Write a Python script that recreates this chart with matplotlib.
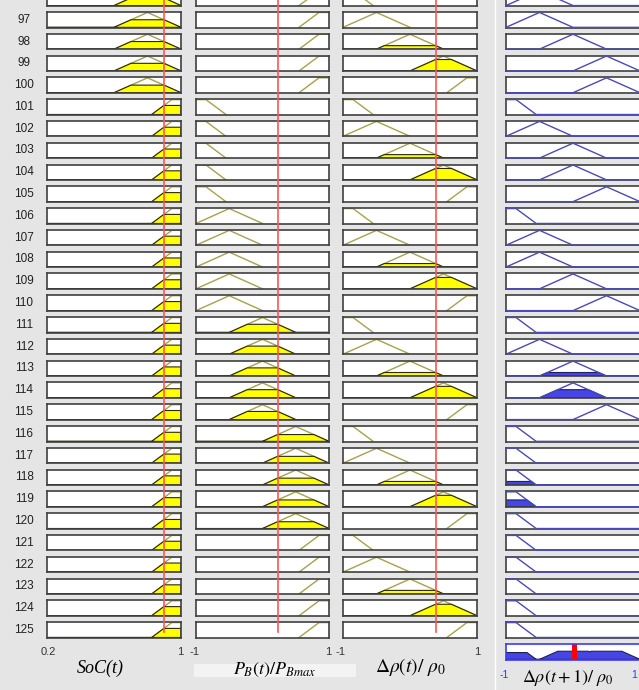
import matplotlib.pyplot as plt
import numpy as np
from matplotlib.lines import Line2D
from matplotlib.patches import Rectangle
from matplotlib.transforms import blended_transform_factory

plt.rcParams['mathtext.fontset'] = 'stix'

# rule numbers visible in the viewer (96 is cut at the top)
rules = [96, 97, 98, 99, 100, 101, 102, 103, 104, 105, 106, 107, 108, 109, 110,
         111, 112, 113, 114, 115, 116, 117, 118, 119, 120, 121, 122, 123, 124, 125]
soc_mf = ['H', 'H', 'H', 'H', 'H', 'VH', 'VH', 'VH', 'VH', 'VH', 'VH', 'VH', 'VH', 'VH', 'VH',
          'VH', 'VH', 'VH', 'VH', 'VH', 'VH', 'VH', 'VH', 'VH', 'VH', 'VH', 'VH', 'VH', 'VH', 'VH']
pb_mf = ['PB', 'PB', 'PB', 'PB', 'PB', 'NB', 'NB', 'NB', 'NB', 'NB', 'NS', 'NS', 'NS', 'NS', 'NS',
         'Z', 'Z', 'Z', 'Z', 'Z', 'PS', 'PS', 'PS', 'PS', 'PS', 'PB', 'PB', 'PB', 'PB', 'PB']
drho_mf = ['NB', 'NS', 'Z', 'PS', 'PB', 'NB', 'NS', 'Z', 'PS', 'PB', 'NB', 'NS', 'Z', 'PS', 'PB',
           'NB', 'NS', 'Z', 'PS', 'PB', 'NB', 'NS', 'Z', 'PS', 'PB', 'NB', 'NS', 'Z', 'PS', 'PB']
out_mf = ['NS', 'NS', 'Z', 'PS', 'PS', 'NB', 'NS', 'Z', 'Z', 'PS', 'NB', 'NS', 'NS', 'Z', 'PS',
          'NB', 'NS', 'Z', 'Z', 'PS', 'NB', 'NB', 'NB', 'NB', 'NB', 'NB', 'NB', 'NB', 'NB', 'NB']

# trapezoid breakpoints a, b, c, d
soc_mfs = {'H': [0.6, 0.8, 0.8, 1.0], 'VH': [0.825, 0.945, 1.0, 1.0]}
std_mfs = {'NB': [-1.0, -1.0, -0.85, -0.55], 'NS': [-1.0, -0.5, -0.5, 0.0],
           'Z': [-0.5, 0.0, 0.0, 0.5], 'PS': [0.0, 0.5, 0.5, 1.0], 'PB': [0.55, 0.85, 1.0, 1.0]}

soc_in = 0.898
pb_in = 0.228
drho_in = 0.383
out_val = 0.015
# aggregated output (includes rules above the visible window)
agg_mf = ['NB', 'Z', 'PS']
agg_level = [0.456, 0.544, 0.544]

W, H = 639, 690
col_x = [(47, 181), (196, 329), (343, 477), (506, 640)]
col_rng = [(0.2, 1.0), (-1.0, 1.0), (-1.0, 1.0), (-1.0, 1.0)]
row_step = 21.79
box_h = 15.5

OLIVE = '#a6a24c'
YELLOW = '#ffff00'
BLUE_LN = '#4a4ab8'
BLUE_FILL = '#4646e8'


def trap(x, p):
    a, b, c, d = p
    x = np.asarray(x, dtype=float)
    up = np.ones_like(x) if b == a else (x - a) / (b - a)
    down = np.ones_like(x) if d == c else (d - x) / (d - c)
    return np.clip(np.minimum(up, down), 0, 1)


def mf_outline(p, lo, hi, baseline=False):
    a, b, c, d = p
    if baseline:
        xs, ys, k = [lo, a, b, c, d, hi], [0, 0, 1, 1, 0, 0], 2
    else:
        xs, ys, k = [a, b, c, d], [0, 1, 1, 0], 1
    if b <= lo:
        xs, ys = xs[k:], ys[k:]
    if c >= hi:
        xs, ys = xs[:-k], ys[:-k]
    return xs, ys


def clipped(p, level, lo, hi):
    xx = np.linspace(lo, hi, 600)
    yy = np.minimum(trap(xx, p), level)
    return np.r_[lo, xx, hi], np.r_[0, yy, 0]


def px_axes(x0, y0, x1, y1):
    ax = fig.add_axes([x0 / W, 1 - y1 / H, (x1 - x0) / W, (y1 - y0) / H])
    ax.set_xticks([])
    ax.set_yticks([])
    ax.set_facecolor('white')
    ax.set_ylim(-0.01, 1.03)
    return ax


fig = plt.figure(figsize=(W / 100, H / 100), dpi=100, facecolor='#e5e5e5')

last_axes = []
for i, r in enumerate(rules):
    top = 12 + (r - 97) * row_step
    if top > 0:
        fig.text(24 / W, 1 - (top + box_h / 2) / H, str(r), ha='center', va='center',
                 fontsize=8.5, family='Liberation Sans', color='#222222')
    ins = [(soc_mfs[soc_mf[i]], soc_in), (std_mfs[pb_mf[i]], pb_in), (std_mfs[drho_mf[i]], drho_in)]
    mus = [float(trap(v, p)) for p, v in ins]
    fire = min(mus)
    row_axes = []
    for c in range(4):
        x0, x1 = col_x[c]
        lo, hi = col_rng[c]
        ax = px_axes(x0, top, x1, top + box_h)
        ax.set_xlim(lo, hi)
        for sp in ax.spines.values():
            sp.set_color('#404040')
            sp.set_linewidth(1.2)
        if c < 3:
            p = ins[c][0]
            xs, ys = mf_outline(p, lo, hi)
            ax.plot(xs, ys, color=OLIVE, lw=1.0, zorder=2)
            if mus[c] > 0:
                fx, fy = clipped(p, mus[c], lo, hi)
                ax.fill(fx, fy, facecolor=YELLOW, edgecolor='#2a2a10', lw=0.8, zorder=2.2)
        else:
            p = std_mfs[out_mf[i]]
            xs, ys = mf_outline(p, lo, hi, baseline=True)
            ax.plot(xs, ys, color=BLUE_LN, lw=1.0, zorder=3, clip_on=False)
            if fire > 0:
                fx, fy = clipped(p, fire, lo, hi)
                ax.fill(fx, fy, facecolor=BLUE_FILL, edgecolor='#202060', lw=0.8, zorder=2.2)
        row_axes.append(ax)
    last_axes = row_axes

# input value markers
for c, v in enumerate([soc_in, pb_in, drho_in]):
    tr = blended_transform_factory(last_axes[c].transData, fig.transFigure)
    fig.add_artist(Line2D([v, v], [1, 1 - 632 / H], transform=tr, color='#ff5555', lw=1.2, zorder=5))

# aggregated output
ax = px_axes(506, 644, 640, 659.5)
ax.set_xlim(-1, 1)
for sp in ax.spines.values():
    sp.set_color('#3a3aff')
    sp.set_linewidth(1.2)
xx = np.linspace(-1, 1, 800)
agg = np.zeros_like(xx)
for name, lv in zip(agg_mf, agg_level):
    agg = np.maximum(agg, np.minimum(trap(xx, std_mfs[name]), lv))
ax.fill(np.r_[-1, xx, 1], np.r_[0, agg, 0], facecolor=BLUE_FILL, edgecolor='#202050', lw=0.8)
ax.axvline(out_val, color='#ff0000', lw=3.6)

# separators and label strip
fig.add_artist(Line2D([495 / W, 495 / W], [0, 1], color='white', lw=1.0))
fig.add_artist(Rectangle((194 / W, 1 - 677 / H), (356 - 194) / W, 13 / H,
                         transform=fig.transFigure, facecolor='#f3f3f3', edgecolor='none', zorder=0))

# range labels
tick_y = 1 - 652 / H
for x, s in [(48, '0.2'), (180, '1'), (194, '-1'), (328, '1'), (341, '-1'), (477, '1')]:
    fig.text(x / W, tick_y, s, ha='center', va='center', fontsize=8,
             family='Liberation Sans', color='#333333')
fig.text(504 / W, 1 - 675 / H, '-1', ha='center', va='center', fontsize=7.5,
         family='Liberation Sans', color='#3333ff')
fig.text(634 / W, 1 - 675 / H, '1', ha='center', va='center', fontsize=7.5,
         family='Liberation Sans', color='#3333ff')

# variable names
fig.text(100 / W, 1 - 668 / H, 'SoC(t)', ha='center', va='center', fontsize=13,
         family='Liberation Serif', style='italic')
fig.text(275 / W, 1 - 670 / H, r'$P_B(t)/P_{Bmax}$', ha='center', va='center', fontsize=13)
fig.text(410 / W, 1 - 667 / H, r'$\Delta\rho\left(t\right)/\ \rho_0$', ha='center', va='center',
         fontsize=14)
fig.text(568 / W, 1 - 688 / H, r'$\Delta\rho(t+1)/\ \rho_0$', ha='center', va='bottom', fontsize=13)

fig.savefig('out.png', dpi=100, facecolor=fig.get_facecolor())
